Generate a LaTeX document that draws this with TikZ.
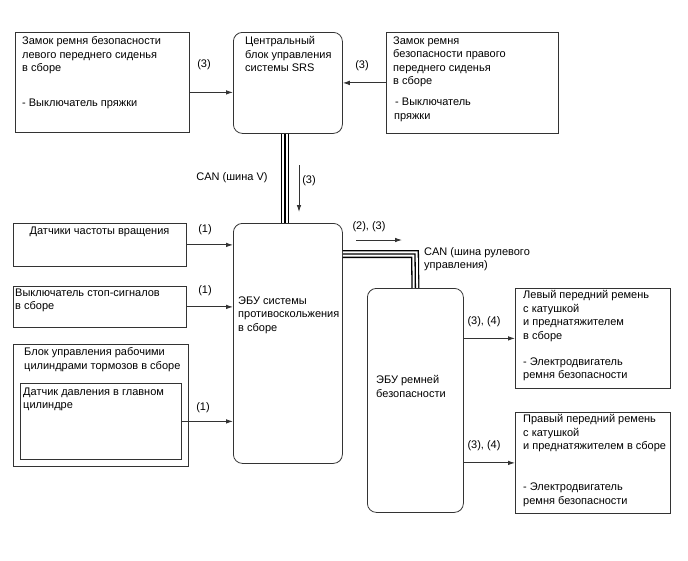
\documentclass[tikz,border=0pt]{standalone}
\usepackage{fontspec}
\setmainfont{Liberation Sans}
\usetikzlibrary{arrows.meta}

\begin{document}
\begin{tikzpicture}[x=1pt, y=-1pt,
        font=\fontsize{11}{13.5}\selectfont,
        box/.style={draw=black!80, line width=0.8pt, anchor=north west, inner sep=0pt},
        ecu/.style={box, rounded corners=9pt},
        txt/.style={anchor=north west, inner sep=0pt, align=left},
        sig/.style={draw=black!80, line width=0.9pt, -{Latex[length=7pt, width=4.6pt]}},
        canbus/.style={line width=8pt, line join=miter,
            postaction={draw=white, line width=5.4pt},
            postaction={draw=black, line width=1.3pt}},
        lbl/.style={inner sep=0pt}]
    \useasboundingbox (0,0) rectangle (688,560);

    \node[box, minimum width=174pt, minimum height=100pt] (lbuckle) at (15,32) {};
    \node[ecu, minimum width=109pt, minimum height=101pt] (srs) at (233,32) {};
    \node[box, minimum width=172pt, minimum height=101pt] (rbuckle) at (386,32) {};
    \node[ecu, minimum width=109pt, minimum height=240pt] (abs) at (233,223) {};
    \node[box, minimum width=173pt, minimum height=43pt] (speed) at (13,223) {};
    \node[box, minimum width=173pt, minimum height=41pt] (stop) at (13,286) {};
    \node[box, minimum width=175pt, minimum height=122pt] (act) at (13,344) {};
    \node[box, minimum width=161pt, minimum height=76pt] (press) at (20,383) {};
    \node[ecu, minimum width=96pt, minimum height=224pt] (belt) at (367,288) {};
    \node[box, minimum width=155pt, minimum height=100pt] (lbelt) at (515,288) {};
    \node[box, minimum width=155pt, minimum height=101pt] (rbelt) at (515,412) {};

    \node[txt] (lbuckle-t) at (22,36.5) {Замок ремня безопасности\\левого переднего сиденья\\в сборе\\[21.5pt]- Выключатель пряжки};
    \node[txt] (srs-t) at (245,36.5) {Центральный\\блок управления\\системы SRS};
    \node[txt] (rbuckle-t) at (393,36.5) {Замок ремня\\безопасности правого\\переднего сиденья\\в сборе\\[7.5pt]\hspace*{2pt}- Выключатель\\\hspace*{1pt}пряжки};
    \node[txt, anchor=north] (speed-t) at (99.5,226.5) {Датчики частоты вращения};
    \node[txt] (stop-t) at (15,288.5) {Выключатель стоп-сигналов\\в сборе};
    \node[txt] (act-t) at (24,347.5) {Блок управления рабочими\\цилиндрами тормозов в сборе};
    \node[txt] (press-t) at (23,387.5) {Датчик давления в главном\\цилиндре};
    \node[txt] (abs-t) at (238,296.5) {ЭБУ системы\\противоскольжения\\в сборе};
    \node[txt] (belt-t) at (376,375.5) {ЭБУ ремней\\безопасности};
    \node[txt] (lbelt-t) at (523,290.5) {Левый передний ремень\\с катушкой\\и преднатяжителем\\в сборе\\[12.5pt]- Электродвигатель\\ремня безопасности};
    \node[txt] (rbelt-t) at (523,414.5) {Правый передний ремень\\с катушкой\\и преднатяжителем в сборе\\[27.5pt]- Электродвигатель\\ремня безопасности};

    \coordinate (canr) at (415,254);
    \draw[canbus] ([xshift=-3pt]srs.south) -- ([xshift=-3pt]srs.south |- abs.north);
    \draw[canbus] (abs.east |- canr) -- (canr) -- (belt.north);

    \draw ([yshift=-10pt]lbuckle.east) edge[sig] ([yshift=-10pt]lbuckle.east -| srs.west)
          (rbuckle.west) edge[sig] (rbuckle.west -| srs.east)
          (speed.east) edge[sig] (speed.east -| abs.west)
          (stop.east) edge[sig] (stop.east -| abs.west)
          (press.east) edge[sig] (press.east -| abs.west)
          (belt.east |- lbelt.west) edge[sig] (lbelt.west)
          (belt.east |- rbelt.west) edge[sig] (rbelt.west);

    \coordinate (v1) at (299,165);
    \coordinate (v2) at (299,212);
    \coordinate (h1) at (356,240);
    \coordinate (h2) at (402,240);
    \draw (v1) edge[sig] (v2)
          (h1) edge[sig] (h2);

    \node[lbl] (l1) at (204,65) {(3)};
    \node[lbl] (l2) at (362,66) {(3)};
    \node[lbl] (l3) at (232,178) {CAN (шина V)};
    \node[lbl] (l4) at (309,181) {(3)};
    \node[lbl] (l5) at (369,227) {(2), (3)};
    \node[lbl, anchor=west, align=left] (l6) at (424,259) {CAN (шина рулевого\\управления)};
    \node[lbl] (l7) at (205,230) {(1)};
    \node[lbl] (l8) at (205,291) {(1)};
    \node[lbl] (l9) at (203,408) {(1)};
    \node[lbl] (l10) at (484,322) {(3), (4)};
    \node[lbl] (l11) at (484,446) {(3), (4)};
\end{tikzpicture}
\end{document}
